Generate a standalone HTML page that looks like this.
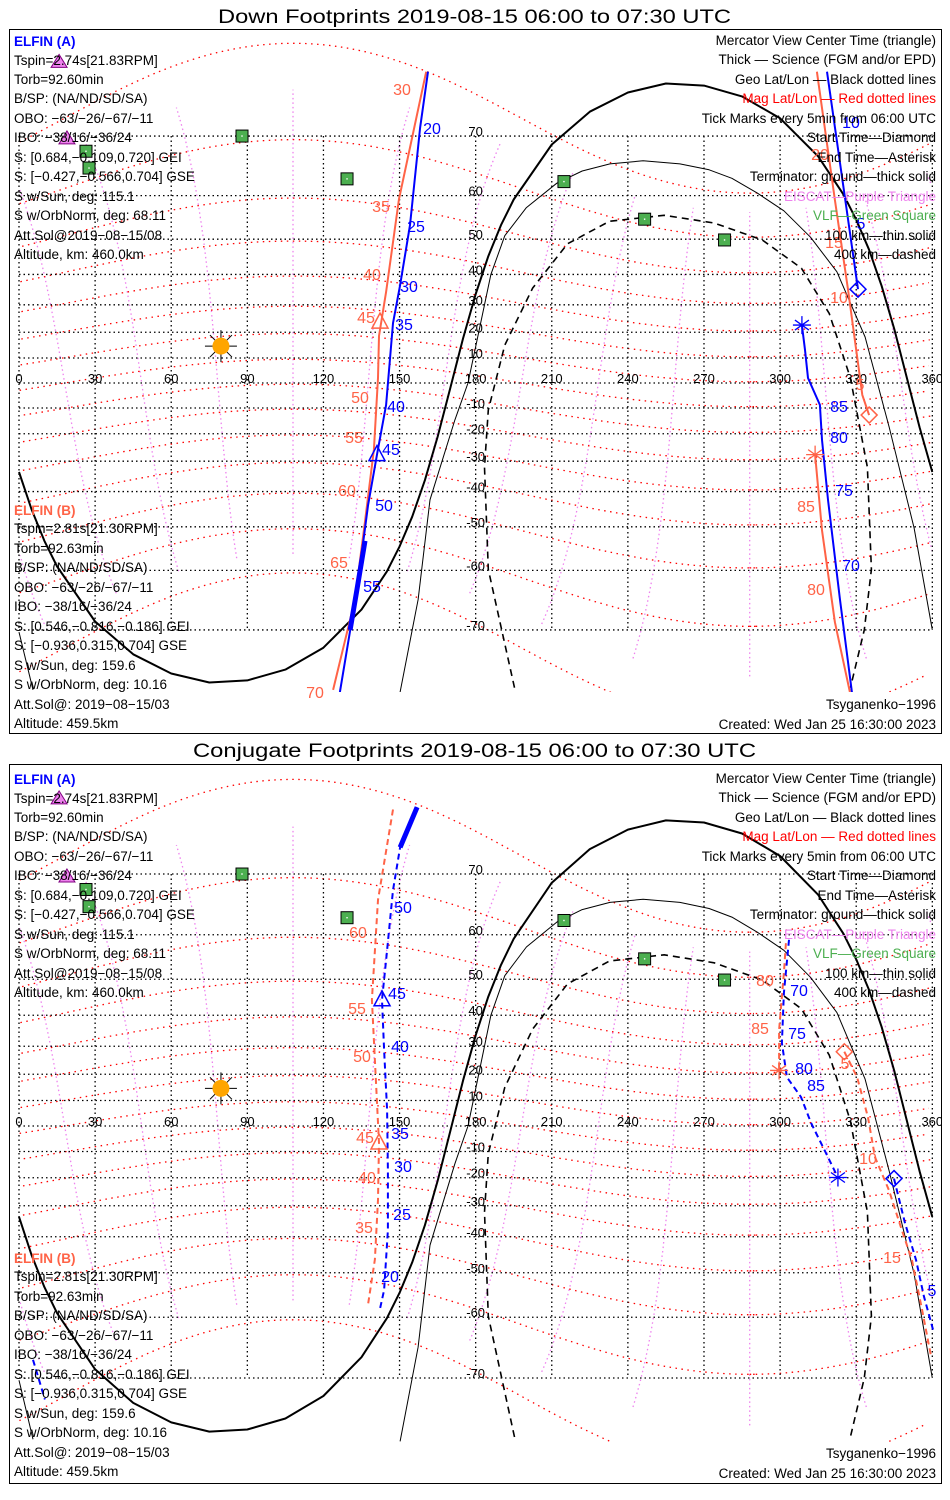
<!DOCTYPE html>
<html><head><meta charset="utf-8"><title>ELFIN Footprints</title>
<style>
html,body{margin:0;padding:0;background:#fff;}
svg{display:block;font-family:"Liberation Sans",sans-serif;}
</style></head>
<body>
<svg id="chart" width="950" height="1500" viewBox="0 0 950 1500" xmlns="http://www.w3.org/2000/svg">
<defs>
<clipPath id="clipTop"><rect x="10" y="30" width="931" height="662"/></clipPath>
<clipPath id="clipBot"><rect x="10" y="765" width="931" height="677"/></clipPath>
</defs>
<rect x="0" y="0" width="950" height="1500" fill="#fff"/>
<text x="218" y="23" font-size="19" textLength="513" lengthAdjust="spacingAndGlyphs">Down Footprints 2019-08-15 06:00 to 07:30 UTC</text>
<text x="193" y="757" font-size="19" textLength="563" lengthAdjust="spacingAndGlyphs">Conjugate Footprints 2019-08-15 06:00 to 07:30 UTC</text>
<rect x="9.5" y="29.5" width="932" height="704" fill="none" stroke="#000" stroke-width="1"/>
<rect x="9.5" y="764.5" width="932" height="719" fill="none" stroke="#000" stroke-width="1"/>
<g id="topMap" clip-path="url(#clipTop)"></g>
<g id="botMap" clip-path="url(#clipBot)"></g>
<g id="texts"></g>
</svg>
<script>
// ---------- data (geographic lon/lat, degrees) ----------
const termThickLon = [0,5,10,15,30,45,60,75,90,105,120,135,145,150,155,160,165,170,175,180,185,190,195,210,225,240,255,270,285,300,315,325,330,335,340,345,350,355,360];
const termThickLat = [-33.7,-45.4,-53.5,-59.2,-68.8,-73.1,-75.2,-76.1,-75.9,-74.8,-72.3,-67.0,-60.2,-54.8,-47.3,-36.4,-21.2,-2.0,17.6,33.7,45.4,53.5,59.2,68.8,73.1,75.2,76.1,75.9,74.8,72.3,67.0,60.2,54.8,47.3,36.4,21.2,2.0,-17.6,-33.7];
const termThinLon = [150.2,157.3,162,171.8,177,183,186,191.5,200,212,222,232.9,246,260.5,272,281,291,301.5,312,322.4,333.5,343,352.8,360];
const termThinLat = [-77,-65.4,-42.5,-14.7,0,28,40,50.9,57.5,62.4,64.6,65.8,66.3,65.8,64.8,63.3,60.5,56.8,50.5,40.8,18.2,-17.5,-50.3,-70];
const termThinLeftLon = [0,5.5];
const termThinLeftLat = [-70.3,-76.8];
const term400Lon = [195.3,185,183.5,185,191.5,202.5,216.2,232.7,254.3,274,293,308.4,319.4,327.7,334.4,336,333.2,327.7];
const term400Lat = [-76.6,-59.8,-32.1,-10.8,15.1,35.7,48.8,54.4,55.8,54,49.8,41.9,26.9,2.0,-32.1,-59.8,-70,-76.6];

// Down footprints (top panel)
const downAMainLon = [161.2,158.1,154.1,150.2,147.4,144.7,141.1,137.6,133.2,126.5];
const downAMainLat = [77.2,71.1,53.5,36.6,23.4,-8.8,-27.7,-44,-63.7,-77];
const downASciLon = [136.4,133.2,130.5];
const downASciLat = [-53.5,-63.7,-70];
const downAStartLon = [318.5,330.7];
const downAStartLat = [77.2,35.3];
const downAEndLon = [308.6,309.8,311,315.7,316.5,318.9,323.6,328.3];
const downAEndLat = [22.7,13.2,2,-8.8,-22.3,-42.5,-65.4,-77];
const downBMainLon = [160.5,149.8,144.7,141.9,141.5,139.9,136.4,132.4,123.8];
const downBMainLat = [77.2,59.3,34.4,18.6,2.0,-25.9,-48.6,-65.4,-76.8];
const downBStartLon = [314.5,321.6,326.8,330,332.4,335.1];
const downBStartLat = [77.2,59.1,35,13.2,-4.8,-12.8];
const downBEndLon = [313.8,316.5,321.6,327.5];
const downBEndLat = [-27.7,-50.9,-68.9,-77];

// Conjugate footprints (bottom panel)
const conjAMainLon = [156.9,150.2,147.4,144.7,143.1,143.9,145.1,145.4,145.4,143.9,142.3];
const conjAMainLat = [77.3,73.3,67.7,54.6,44.5,28.7,6.3,-17.2,-38,-54.2,-58.3];
const conjASciLon = [156.9,150.2];
const conjASciLat = [77.3,73.3];
const conjAEndLon = [303.5,301.5,300.7,302.7,308.2,312.2,318.9,322.8];
const conjAEndLat = [59,46.4,31.1,18.9,11.4,1.2,-12.2,-19.9];
const conjAStartLon = [344.9,349.2,353.6,356.7,360.3];
const conjAStartLat = [-20.3,-35.6,-46.7,-55.6,-62.4];
const conjAWrapLon = [5.5,10.2];
const conjAWrapLat = [-67.4,-72.7];
const conjBMainLon = [147.4,141.5,139.1,140.3,141.9,141.5,140.3,137.6];
const conjBMainLat = [77.1,66.2,44.5,25.1,-6.7,-27.9,-46.5,-57.3];
const conjBEndLon = [302.3,301.5,299.6,299.6];
const conjBEndLat = [58.3,51.6,35.4,21.4];
const conjBStartLon = [325.3,330.3,334.6,337.4,342.9,348,352,355.9,359.5];
const conjBStartLat = [28.1,19,3.6,-12.2,-24.5,-38,-46.7,-58.3,-66.9];

// Stations / sun
const vlfLon = [87.9,26.4,27.6,129.3,214.8,246.6,278.1];
const vlfLat = [70,67.8,65.1,63.2,62.7,54.9,49.8];
const eiscatLon = [15.8,18.9];
const eiscatLat = [78,69.6];
const sunLon = [79.6];
const sunLat = [14.7];

const lonTicks = [0,30,60,90,120,150,180,210,240,270,300,330,360];
const latTicks = [70,60,50,40,30,20,10,-10,-20,-30,-40,-50,-60,-70];
const gridLats = [-70,-60,-50,-40,-30,-20,-10,0,10,20,30,40,50,60,70];

// Markers
const topMarkers = [
  {t:'diamond',c:'#0000ff',lon:330.7,lat:35.3},
  {t:'asterisk',c:'#0000ff',lon:308.6,lat:22.7},
  {t:'triangle',c:'#0000ff',lon:141.1,lat:-27.7},
  {t:'diamond',c:'#ff6347',lon:335.1,lat:-12.8},
  {t:'asterisk',c:'#ff6347',lon:313.8,lat:-27.7},
  {t:'triangle',c:'#ff6347',lon:142.3,lat:23.8}
];
const botMarkers = [
  {t:'triangle',c:'#0000ff',lon:143.1,lat:44.5},
  {t:'triangle',c:'#ff6347',lon:141.9,lat:-6.7},
  {t:'diamond',c:'#0000ff',lon:344.9,lat:-20.3},
  {t:'asterisk',c:'#0000ff',lon:322.8,lat:-19.9},
  {t:'diamond',c:'#ff6347',lon:325.3,lat:28.1},
  {t:'asterisk',c:'#ff6347',lon:299.6,lat:21.4}
];

// ---------- helpers ----------
const NS = 'http://www.w3.org/2000/svg';
function mk(tag, attrs, parent){
  const e = document.createElementNS(NS, tag);
  for (const k in attrs) e.setAttribute(k, attrs[k]);
  parent.appendChild(e);
  return e;
}
function makeProj(y0, k){
  return {
    x: lon => 19 + lon*2.537,
    y: lat => y0 - k*Math.log(Math.tan(Math.PI/4 + lat*Math.PI/360))
  };
}
const projTop = makeProj(383, 142.3);
const projBot = makeProj(1126, 145.2);

function pts(P, lons, lats){
  return lons.map((l,i)=>P.x(l).toFixed(1)+','+P.y(Math.max(-85,Math.min(85,lats[i]))).toFixed(1)).join(' ');
}
function line(g, P, lons, lats, stroke, w, dash, name){
  const e = mk('polyline',{points:pts(P,lons,lats),fill:'none',stroke:stroke,'stroke-width':w,'stroke-linejoin':'round'},g);
  if (dash) e.setAttribute('stroke-dasharray', dash);
  
  
  return e;
}

// dipole coords -> geo
const thP = 9.5*Math.PI/180, phP = 288*Math.PI/180;
const AX = [Math.cos(thP)*Math.cos(phP), Math.cos(thP)*Math.sin(phP), -Math.sin(thP)];
const AY = [-Math.sin(phP), Math.cos(phP), 0];
const AZ = [Math.sin(thP)*Math.cos(phP), Math.sin(thP)*Math.sin(phP), Math.cos(thP)];
function magToGeo(mlat, mlon){
  const a = mlat*Math.PI/180, b = mlon*Math.PI/180;
  const xm = Math.cos(a)*Math.cos(b), ym = Math.cos(a)*Math.sin(b), zm = Math.sin(a);
  const gx = xm*AX[0]+ym*AY[0]+zm*AZ[0];
  const gy = xm*AX[1]+ym*AY[1]+zm*AZ[1];
  const gz = xm*AX[2]+ym*AY[2]+zm*AZ[2];
  let lon = Math.atan2(gy,gx)*180/Math.PI; if (lon<0) lon+=360;
  return [lon, Math.asin(Math.max(-1,Math.min(1,gz)))*180/Math.PI];
}
function magCurve(g, P, samples, stroke, dash, name){
  let seg = [], prev = null;
  const flush = () => {
    if (seg.length>1){
      const e = mk('polyline',{points:seg.join(' '),fill:'none',stroke:stroke,'stroke-width':1.3,'stroke-dasharray':dash},g);
      
      
    }
    seg = [];
  };
  for (const s of samples){
    const ll = magToGeo(s[0], s[1]);
    if (ll[1] > 84 || ll[1] < -84){ flush(); prev=null; continue; }
    if (prev && Math.abs(ll[0]-prev[0])>180) flush();
    seg.push(P.x(ll[0]).toFixed(1)+','+P.y(ll[1]).toFixed(1));
    prev = ll;
  }
  flush();
}

function drawMarker(g, P, m, name){
  const x = P.x(m.lon), y = P.y(m.lat);
  let e;
  if (m.t==='diamond'){
    e = mk('polygon',{points:`${x},${y-8} ${x+8},${y} ${x},${y+8} ${x-8},${y}`,fill:'none',stroke:m.c,'stroke-width':1.5},g);
  } else if (m.t==='triangle'){
    e = mk('polygon',{points:`${x},${y-9} ${x+8},${y+6} ${x-8},${y+6}`,fill:'none',stroke:m.c,'stroke-width':1.5},g);
  } else {
    e = mk('path',{d:`M${x-9},${y}H${x+9}M${x},${y-9}V${y+9}M${x-7},${y-5}L${x+7},${y+5}M${x-7},${y+5}L${x+7},${y-5}`,stroke:m.c,'stroke-width':1.3,fill:'none'},g);
  }
  
  
}

function drawPanel(g, P){
  // magnetic meridians (violet)
  for (let mlon=0; mlon<360; mlon+=30){
    const s=[]; for (let a=-66; a<=66; a+=1) s.push([a,mlon]);
    magCurve(g, P, s, '#ee82ee', '1.5 3', 'mag-meridian');
  }
  // magnetic parallels (red)
  for (let mlat=-70; mlat<=70; mlat+=10){
    const s=[]; for (let b=0; b<=362; b+=2) s.push([mlat,b]);
    magCurve(g, P, s, '#ff0000', '1.5 4.5', 'mag-parallel');
  }
  // geo grid (black dotted)
  const yTop = P.y(70), yBot = P.y(-70);
  lonTicks.forEach(l=>{
    const e = mk('line',{x1:P.x(l),x2:P.x(l),y1:yTop,y2:yBot,stroke:'#000','stroke-width':1.3,'stroke-dasharray':'1.5 3'},g);
    
    
  });
  gridLats.forEach(l=>{
    const e = mk('line',{x1:P.x(0),x2:P.x(360),y1:P.y(l),y2:P.y(l),stroke:'#000','stroke-width':1.3,'stroke-dasharray':'1.5 3'},g);
    
    
  });
  lonTicks.forEach(l=>{
    const t = mk('text',{x:P.x(l),y:P.y(0),'text-anchor':'middle','font-size':13},g);
    t.textContent = String(l);
    
    
  });
  latTicks.forEach(l=>{
    const t = mk('text',{x:P.x(180),y:P.y(l),'text-anchor':'middle','font-size':13},g);
    t.textContent = String(l);
    
    
  });
  // terminators
  line(g,P,termThickLon,termThickLat,'#000',2,null,'terminator-ground');
  line(g,P,termThinLon,termThinLat,'#000',1,null,'terminator-100km');
  line(g,P,termThinLeftLon,termThinLeftLat,'#000',1,null,'terminator-100km-left');
  line(g,P,term400Lon,term400Lat,'#000',1.6,'7 5','terminator-400km');
  // stations
  vlfLon.forEach((l,i)=>{
    const x=P.x(l), y=P.y(vlfLat[i]);
    const r = mk('rect',{x:x-6,y:y-6,width:12,height:12,fill:'#4caf50',stroke:'#000','stroke-width':1},g);
    
    
    mk('rect',{x:x-0.7,y:y-0.7,width:1.4,height:1.4,fill:'#fff'},g);
  });
  eiscatLon.forEach((l,i)=>{
    const x=P.x(l), y=P.y(eiscatLat[i]);
    const t = mk('polygon',{points:`${x},${y-8} ${x+8},${y+5} ${x-8},${y+5}`,fill:'#ee82ee',stroke:'#800080','stroke-width':1},g);
    
    
  });
  // sun
  const sx=P.x(sunLon[0]), sy=P.y(sunLat[0]);
  const sg = mk('g',{},g);
  
  
  mk('path',{d:`M${sx-16},${sy}H${sx+16}M${sx},${sy-16}V${sy+16}M${sx-11},${sy-11}L${sx+11},${sy+11}M${sx-11},${sy+11}L${sx+11},${sy-11}`,stroke:'#000','stroke-width':1},sg);
  mk('circle',{cx:sx,cy:sy,r:8.5,fill:'#ffa500'},sg);
}

const gTop = document.getElementById('topMap');
const gBot = document.getElementById('botMap');
drawPanel(gTop, projTop);
drawPanel(gBot, projBot);

const BLUE='#0000ff', ORG='#ff6347';
line(gTop,projTop,downBMainLon,downBMainLat,ORG,2,null,'elfin-b-down-track');
line(gTop,projTop,downBStartLon,downBStartLat,ORG,2,null,'elfin-b-down-track-start');
line(gTop,projTop,downBEndLon,downBEndLat,ORG,2,null,'elfin-b-down-track-end');
line(gTop,projTop,downAMainLon,downAMainLat,BLUE,2,null,'elfin-a-down-track');
line(gTop,projTop,downASciLon,downASciLat,BLUE,5,null,'elfin-a-down-science');
line(gTop,projTop,downAStartLon,downAStartLat,BLUE,2,null,'elfin-a-down-track-start');
line(gTop,projTop,downAEndLon,downAEndLat,BLUE,2,null,'elfin-a-down-track-end');
topMarkers.forEach(m=>drawMarker(gTop,projTop,m,'track-marker'));
const DSH='6 4';
line(gBot,projBot,conjBMainLon,conjBMainLat,ORG,2,DSH,'elfin-b-conj-track');
line(gBot,projBot,conjBEndLon,conjBEndLat,ORG,2,DSH,'elfin-b-conj-track-end');
line(gBot,projBot,conjBStartLon,conjBStartLat,ORG,2,DSH,'elfin-b-conj-track-start');
line(gBot,projBot,conjAMainLon,conjAMainLat,BLUE,2,DSH,'elfin-a-conj-track');
line(gBot,projBot,conjASciLon,conjASciLat,BLUE,5,null,'elfin-a-conj-science');
line(gBot,projBot,conjAEndLon,conjAEndLat,BLUE,2,DSH,'elfin-a-conj-track-end');
line(gBot,projBot,conjAStartLon,conjAStartLat,BLUE,2,DSH,'elfin-a-conj-track-start');
line(gBot,projBot,conjAWrapLon,conjAWrapLat,BLUE,2,DSH,'elfin-a-conj-track-wrap');
botMarkers.forEach(m=>drawMarker(gBot,projBot,m,'track-marker'));

const tickLabels = [
 ['30',402,89,ORG],['35',381,206,ORG],['40',372,274,ORG],['45',366,317,ORG],['50',360,397,ORG],['55',354,437,ORG],['60',347,490,ORG],['65',339,562,ORG],['70',315,692,ORG],
 ['20',432,128,BLUE],['25',416,226,BLUE],['30',409,286,BLUE],['35',404,324,BLUE],['40',396,406,BLUE],['45',391,449,BLUE],['50',384,505,BLUE],['55',372,586,BLUE],
 ['10',851,122,BLUE],['5',861,223,BLUE],['85',839,406,BLUE],['80',839,437,BLUE],['75',844,490,BLUE],['70',851,565,BLUE],
 ['20',820,154,ORG],['15',834,242,ORG],['10',839,297,ORG],['5',860,384,ORG],['85',806,506,ORG],['80',816,589,ORG],
 ['50',403,907,BLUE],['45',397,993,BLUE],['40',400,1046,BLUE],['35',400,1133,BLUE],['30',403,1166,BLUE],['25',402,1214,BLUE],['20',390,1276,BLUE],
 ['60',358,932,ORG],['55',357,1008,ORG],['50',362,1056,ORG],['45',365,1137,ORG],['40',367,1177,ORG],['35',364,1227,ORG],
 ['80',765,980,ORG],['85',760,1028,ORG],['5',845,1063,ORG],['10',868,1158,ORG],['15',892,1257,ORG],
 ['70',799,990,BLUE],['75',797,1033,BLUE],['80',804,1068,BLUE],['85',816,1085,BLUE],['5',932,1290,BLUE]
];
const gT = document.getElementById('texts');
tickLabels.forEach(a=>{
  const t = mk('text',{x:a[1],y:a[2]+6,'text-anchor':'middle','font-size':16,fill:a[3]},gT);
  t.textContent = a[0];
  
  
});

const leftA = ['Tspin=2.74s[21.83RPM]','Torb=92.60min','B/SP: (NA/ND/SD/SA)','OBO: \u221263/\u221226/\u221267/\u221211','IBO: \u221238/16/\u221236/24','S: [0.684,\u22120.109,0.720] GEI','S: [\u22120.427,\u22120.566,0.704] GSE','S w/Sun, deg: 115.1','S w/OrbNorm, deg: 68.11','Att.Sol@2019\u221208\u221215/08','Altitude, km: 460.0km'];
const leftB = ['Tspin=2.81s[21.30RPM]','Torb=92.63min','B/SP: (NA/ND/SD/SA)','OBO: \u221263/\u221226/\u221267/\u221211','IBO: \u221238/16/\u221236/24','S: [0.546,\u22120.816,\u22120.186] GEI','S: [\u22120.936,0.315,0.704] GSE','S w/Sun, deg: 159.6','S w/OrbNorm, deg: 10.16','Att.Sol@: 2019\u221208\u221215/03','Altitude: 459.5km'];
const rightLines = [
 ['Mercator View Center Time (triangle)','#000'],['Thick \u2014 Science (FGM and/or EPD)','#000'],['Geo Lat/Lon \u2014 Black dotted lines','#000'],
 ['Mag Lat/Lon \u2014 Red dotted lines','#ff0000'],['Tick Marks every 5min from 06:00 UTC','#000'],['Start Time\u2014Diamond','#000'],
 ['End Time\u2014Asterisk','#000'],['Terminator: ground\u2014thick solid','#000'],['EISCAT\u2014Purple Triangle','#ee82ee'],
 ['VLF\u2014Green Square','#4caf50'],['100 km\u2014thin solid','#000'],['400 km\u2014dashed','#000']];
const lineYs = [60,79,98,118,137,157,176,196,215,235,254];
const bYs = [528,548,567,587,606,626,645,665,684,704,723];
const rightYs = [40,59,79,98,118,137,157,176,196,215,235,254];
function txt(s,x,y,color,anchor,name,bold){
  const t = mk('text',{x:x,y:y+5,'font-size':13.5,fill:color,'text-anchor':anchor},gT);
  if (bold) t.setAttribute('font-weight','bold');
  t.textContent = s;
  
  
}
[0,1].forEach(pi=>{
  const oA = pi===0?0:738, oB = pi===0?0:748, oC = pi===0?0:749;
  txt('ELFIN (A)',14,41+oA,BLUE,'start','elfin-a-header',true);
  leftA.forEach((s,i)=>txt(s,14,lineYs[i]+oA,'#000','start','elfin-a-info'));
  txt('ELFIN (B)',14,510+oB,ORG,'start','elfin-b-header',true);
  leftB.forEach((s,i)=>txt(s,14,bYs[i]+oB,'#000','start','elfin-b-info'));
  rightLines.forEach((r,i)=>txt(r[0],936,rightYs[i]+oA,r[1],'end','legend-line'));
  txt('Tsyganenko\u22121996',936,704+oC,'#000','end','model-label');
  txt('Created: Wed Jan 25 16:30:00 2023',936,724+oC,'#000','end','created-label');
});
</script>
</body></html>
